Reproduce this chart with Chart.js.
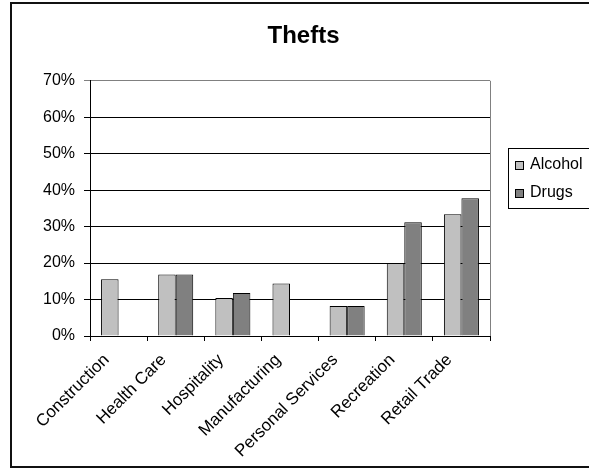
<!DOCTYPE html>
<html>
<head>
<meta charset="utf-8">
<script src="https://cdn.jsdelivr.net/npm/chart.js@4"></script>
<style>
body{margin:0;background:#fff}
canvas{display:block}
</style>
</head>
<body>
<canvas id="chart" width="589" height="470"></canvas>
<script>
//categories and values (percent)
var categories=["Construction","Health Care","Hospitality","Manufacturing","Personal Services","Recreation","Retail Trade"]
var alcohol=[15.6,16.9,10.4,14.4,8.2,20.0,33.4]
var drugs=[null,16.9,11.8,null,8.2,31.2,37.8]
var seriesNames=["Alcohol","Drugs"]
var yTicks=[0,10,20,30,40,50,60,70]

var fontFamily='Arial, "Liberation Sans", sans-serif'

const frame = {   //outer border, plot right border and the boxed legend
    id:'frame',
    afterDraw:(chart)=>{
        const {ctx,chartArea}=chart
        ctx.save()
        ctx.strokeStyle='#808080'
        ctx.lineWidth=1
        ctx.beginPath()
        ctx.moveTo(Math.round(chartArea.right)+0.5,chartArea.top)
        ctx.lineTo(Math.round(chartArea.right)+0.5,chartArea.bottom)
        ctx.stroke()

        ctx.strokeStyle='#111'
        ctx.lineWidth=2
        ctx.strokeRect(11,3,620,464)

        ctx.strokeStyle='#000'
        ctx.lineWidth=1
        ctx.strokeRect(508.5,148.5,120,60)
        ctx.font='16px '+fontFamily
        ctx.textBaseline='alphabetic'
        chart.data.datasets.forEach((ds,i)=>{
            const y=161+i*28
            ctx.fillStyle=ds.backgroundColor
            ctx.fillRect(515.5,y+0.5,8,8)
            ctx.strokeRect(515.5,y+0.5,8,8)
            ctx.fillStyle='#000'
            ctx.fillText(ds.label,530,169+i*28)
        })
        ctx.restore()
    }
}

var chart=new Chart(document.getElementById('chart'),{
    type:'bar',
    data:{
        labels:categories,
        datasets:[{
            label:seriesNames[0],
            data:alcohol,
            backgroundColor:'#c0c0c0',
            borderColor:'#000',
            borderWidth:1
        },{
            label:seriesNames[1],
            data:drugs,
            backgroundColor:'#808080',
            borderColor:'#000',
            borderWidth:1
        }]
    },
    options:{
        responsive:false,
        animation:false,
        devicePixelRatio:1,
        layout:{padding:{left:18,right:0,top:0,bottom:0}},
        datasets:{bar:{categoryPercentage:0.613,barPercentage:1.0}},
        plugins:{
            legend:{display:false},
            tooltip:{enabled:false},
            title:{
                display:true,
                text:'Thefts',
                color:'#000',
                font:{family:fontFamily,size:24,weight:'bold'},
                padding:{top:22,bottom:30}
            }
        },
        scales:{
            x:{
                grid:{offset:true,drawOnChartArea:false,drawTicks:true,tickLength:5,color:'#000'},
                border:{color:'#000'},
                ticks:{
                    color:'#000',
                    font:{family:fontFamily,size:17},
                    maxRotation:45,
                    minRotation:45,
                    autoSkip:false,
                    padding:9,
                    labelOffset:-12
                },
                afterFit:(scale)=>{scale.height=134}
            },
            y:{
                min:0,
                max:70,
                afterBuildTicks:(scale)=>{scale.ticks=yTicks.map(v=>({value:v}))},
                grid:{
                    tickLength:6,
                    color:(c)=>c.tick && c.tick.value===70?'#808080':'#000'
                },
                border:{color:'#000'},
                ticks:{
                    color:'#000',
                    font:{family:fontFamily,size:16},
                    padding:9,
                    callback:(v)=>v+'%'
                },
                afterFit:(scale)=>{scale.width=72}
            },
            legendSpace:{   //empty right axis that keeps room for the legend
                position:'right',
                grid:{drawOnChartArea:false,drawTicks:false},
                border:{display:false},
                ticks:{display:false},
                afterFit:(scale)=>{scale.width=99}
            }
        }
    },
    plugins:[frame]
})
</script>
</body>
</html>
